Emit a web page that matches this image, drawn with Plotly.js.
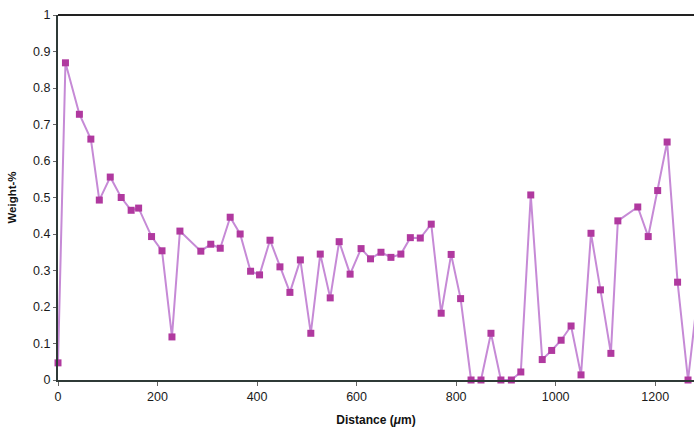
<!DOCTYPE html>
<html>
<head>
<meta charset="utf-8">
<script src="https://cdn.plot.ly/plotly-3.0.1.min.js"></script>
<style>html,body{margin:0;padding:0;background:#fff;}</style>
</head>
<body>
<div id="chart" style="width:694px;height:427px;"></div>
<script>
const distance = [0, 15, 43, 66, 83, 105, 127, 147, 162, 188, 209, 229, 245, 287, 307, 326, 346, 366, 387, 405, 426, 446, 466, 487, 508, 527, 547, 565, 587, 609, 628, 649, 669, 689, 708, 728, 750, 770, 790, 809, 830, 850, 870, 890, 911, 930, 950, 973, 992, 1011, 1031, 1051, 1071, 1090, 1111, 1125, 1165, 1186, 1205, 1224, 1245, 1266, 1287];
const weight = [0.047, 0.869, 0.728, 0.660, 0.493, 0.556, 0.500, 0.465, 0.471, 0.393, 0.354, 0.118, 0.408, 0.353, 0.372, 0.361, 0.446, 0.400, 0.298, 0.288, 0.383, 0.310, 0.240, 0.329, 0.128, 0.345, 0.225, 0.379, 0.290, 0.360, 0.332, 0.350, 0.336, 0.345, 0.390, 0.389, 0.427, 0.183, 0.344, 0.223, 0, 0, 0.128, 0, 0, 0.022, 0.507, 0.056, 0.081, 0.109, 0.148, 0.014, 0.402, 0.247, 0.073, 0.436, 0.474, 0.393, 0.519, 0.652, 0.268, 0, 0.25];
const xTicks = [0, 200, 400, 600, 800, 1000, 1200];
const yTicks = [0, 0.1, 0.2, 0.3, 0.4, 0.5, 0.6, 0.7, 0.8, 0.9, 1];
const yTickText = ['0', '0.1', '0.2', '0.3', '0.4', '0.5', '0.6', '0.7', '0.8', '0.9', '1'];

const trace = {
  x: distance, y: weight, type: 'scatter', mode: 'lines+markers',
  line: {color: '#c68ad6', width: 2},
  marker: {symbol: 'square', size: 7, color: '#b0399f'},
  cliponaxis: false, showlegend: false
};
const font = {family: 'Liberation Sans, Arial, sans-serif', size: 12.5, color: '#1a1a1a'};
const layout = {
  width: 694, height: 427,
  margin: {l: 58, r: 0, t: 15, b: 47},
  paper_bgcolor: '#ffffff', plot_bgcolor: '#ffffff',
  font: font,
  xaxis: {
    range: [0, 1278], tickvals: xTicks, ticktext: xTicks.map(String),
    showgrid: false, zeroline: false, showline: true, linecolor: '#2f3a37', linewidth: 2,
    ticks: 'outside', ticklen: 4, tickcolor: '#666', tickwidth: 1,
    tickfont: font, automargin: false,
    title: {text: '<b>Distance (<i>μ</i>m)</b>', font: {family: 'Liberation Sans, Arial, sans-serif', size: 12, color: '#111'}, standoff: 14}
  },
  yaxis: {
    range: [0, 1], tickvals: yTicks, ticktext: yTickText,
    showgrid: false, zeroline: false, showline: true, linecolor: '#2f3a37', linewidth: 2,
    ticks: 'outside', ticklen: 3, tickcolor: '#666', tickwidth: 1,
    tickfont: font, automargin: false,
    title: {text: '<b>Weight-%</b>', font: {family: 'Liberation Sans, Arial, sans-serif', size: 11.5, color: '#111'}, standoff: 14}
  },
  shapes: [{type: 'line', xref: 'paper', yref: 'paper', x0: 0, x1: 1, y0: 1, y1: 1, line: {color: '#222', width: 2}}]
};
Plotly.newPlot('chart', [trace], layout, {displayModeBar: false, staticPlot: true});
</script>
</body>
</html>
